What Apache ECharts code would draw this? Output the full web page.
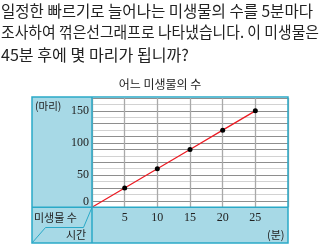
<!DOCTYPE html>
<html>
<head>
<meta charset="utf-8">
<script src="https://cdn.jsdelivr.net/npm/echarts@6/dist/echarts.min.js"></script>
<style>
html,body{margin:0;padding:0;background:#fff;}
#c{width:320px;height:246px;}
</style>
</head>
<body>
<div id="c"></div>
<script>
// ---- data ----
const questionLines = [
  '일정한 빠르기로 늘어나는 미생물의 수를 5분마다',
  '조사하여 꺾은선그래프로 나타냈습니다. 이 미생물은',
  '45분 후에 몇 마리가 됩니까?'
];
const chartTitle = '어느 미생물의 수';
const timeMinutes = [0, 5, 10, 15, 20, 25];
const microbeCounts = [0, 30, 60, 90, 120, 150];
const xTickLabels = [5, 10, 15, 20, 25];
const yTickLabels = [0, 50, 100, 150];
const yUnit = '(마리)';
const xUnit = '(분)';
const rowHeader = '미생물 수';
const colHeader = '시간';

// ---- styling helpers ----
const CYAN = '#2aa9c7';
const PANEL = '#a7d9e6';
const TXT = '#222';
const KR = '"Noto Sans CJK KR", sans-serif';
const SERIF = '"Liberation Serif", "DejaVu Serif", serif';

const meas = document.createElement('canvas').getContext('2d');
function fitScale(text, font, target) {
  meas.font = font;
  const w = meas.measureText(text).width;
  return w > 0 ? target / w : 1;
}
const qFontSize = 16;
const qTargets = [312, 318, 188];
const qCenters = [10.5, 32, 55];
const qGraphics = questionLines.map((t, i) => ({
  type: 'text',
  x: 1,
  y: qCenters[i],
  scaleX: fitScale(t, qFontSize + 'px ' + KR, qTargets[i]),
  style: { text: t, font: qFontSize + 'px ' + KR, fill: TXT, textVerticalAlign: 'middle', verticalAlign: 'middle' },
  z: 10
}));

const yMax = 170, yStep = 10;
const splitColors = [];
for (let v = 0; v <= yMax; v += yStep) {
  splitColors.push((v % 50 === 0 || (v / 10) % 2 === 1) ? '#8e8e8e' : '#d2d2d2');
}

const chart = echarts.init(document.getElementById('c'), null, { renderer: 'canvas' });
chart.setOption({
  animation: false,
  backgroundColor: '#fff',
  title: {
    text: chartTitle,
    left: 'center',
    top: 78,
    padding: 0,
    textStyle: { fontSize: 12, fontWeight: 'normal', fontFamily: KR, color: TXT }
  },
  grid: { left: 92, right: 32, top: 98, bottom: 38.7, containLabel: false },
  xAxis: {
    type: 'value', min: 0, max: 30, interval: 5,
    axisLine: { show: false }, axisTick: { show: false },
    splitLine: { show: true, lineStyle: { color: '#a9a9a9', width: 1.3 } },
    axisLabel: {
      margin: 5, fontFamily: SERIF, fontSize: 12, color: TXT,
      formatter: v => xTickLabels.includes(v) ? String(v) : ''
    }
  },
  yAxis: {
    type: 'value', min: 0, max: yMax, interval: yStep,
    axisLine: { show: false }, axisTick: { show: false },
    splitLine: { show: true, lineStyle: { color: splitColors, width: 1 } },
    axisLabel: {
      margin: 3, fontFamily: SERIF, fontSize: 12, color: TXT,
      formatter: v => yTickLabels.includes(v) ? (v === 0 ? '{z|0}' : String(v)) : '',
      rich: { z: { fontFamily: SERIF, fontSize: 12, color: TXT, padding: [0, 0, 11, 0] } }
    }
  },
  series: [{
    type: 'line',
    data: timeMinutes.map((t, i) => i === 0
      ? { value: [t, microbeCounts[i]], symbol: 'none' }
      : [t, microbeCounts[i]]),
    symbol: 'circle', symbolSize: 5,
    itemStyle: { color: '#000' },
    lineStyle: { color: '#ec1c24', width: 1.3 },
    z: 5
  }],
  graphic: [
    // panels
    { type: 'rect', shape: { x: 32, y: 97, width: 60, height: 146 }, style: { fill: PANEL }, z: -10, silent: true },
    { type: 'rect', shape: { x: 92, y: 207.3, width: 196, height: 35.7 }, style: { fill: PANEL }, z: -10, silent: true },
    // borders
    { type: 'rect', shape: { x: 32, y: 97, width: 256, height: 146 }, style: { fill: null, stroke: CYAN, lineWidth: 1.5 }, z: 50, silent: true },
    { type: 'line', shape: { x1: 92, y1: 97, x2: 92, y2: 243 }, style: { stroke: CYAN, lineWidth: 1.5 }, z: 50, silent: true },
    { type: 'line', shape: { x1: 32, y1: 207.3, x2: 288, y2: 207.3 }, style: { stroke: CYAN, lineWidth: 1.5 }, z: 50, silent: true },
    { type: 'polyline', shape: { points: [[32, 243], [45.5, 227.5], [83.5, 227.5], [92, 207.3]] }, style: { stroke: CYAN, lineWidth: 1, fill: null }, z: 50, silent: true },
    // texts
    { type: 'text', x: 35, y: 106, style: { text: yUnit, font: '10.5px ' + KR, fill: TXT, verticalAlign: 'middle' }, z: 60 },
    { type: 'text', x: 34, y: 217.5, style: { text: rowHeader, font: '11px ' + KR, fill: TXT, verticalAlign: 'middle' }, z: 60 },
    { type: 'text', x: 66, y: 234.5, style: { text: colHeader, font: '11px ' + KR, fill: TXT, verticalAlign: 'middle' }, z: 60 },
    { type: 'text', x: 267, y: 235, style: { text: xUnit, font: '11px ' + KR, fill: TXT, verticalAlign: 'middle' }, z: 60 }
  ].concat(qGraphics)
});
</script>
</body>
</html>
